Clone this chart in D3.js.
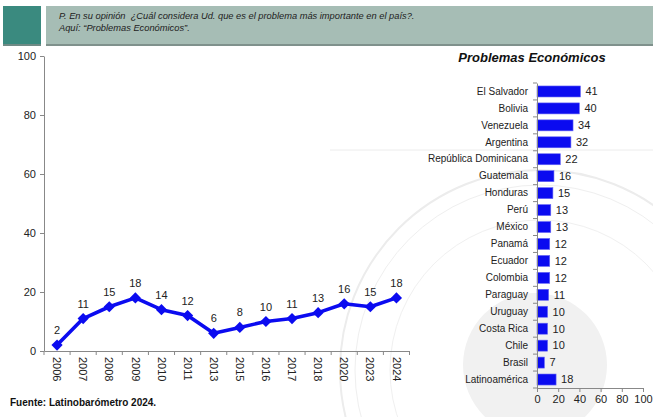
<!DOCTYPE html>
<html>
<head>
<meta charset="utf-8">
<script src="https://cdn.jsdelivr.net/npm/d3@7"></script>
<style>
  body { margin: 0; background: #fff; }
  svg { font-family: "Liberation Sans", Arial, sans-serif; }
</style>
</head>
<body>
<div class="chart"></div>
<script>
// line chart data
const years = ['2006', '2007', '2008', '2009', '2010', '2011', '2013', '2015', '2016', '2017', '2018', '2020', '2023', '2024'];
const yearValues = [2, 11, 15, 18, 14, 12, 6, 8, 10, 11, 13, 16, 15, 18];
const lineTicks = [0, 20, 40, 60, 80, 100];

// bar chart data
const countries = ['El Salvador', 'Bolivia', 'Venezuela', 'Argentina', 'República Dominicana', 'Guatemala', 'Honduras',
    'Perú', 'México', 'Panamá', 'Ecuador', 'Colombia', 'Paraguay', 'Uruguay', 'Costa Rica', 'Chile', 'Brasil', 'Latinoamérica'];
const countryValues = [41, 40, 34, 32, 22, 16, 15, 13, 13, 12, 12, 12, 11, 10, 10, 10, 7, 18];
const barTicks = [0, 20, 40, 60, 80, 100];

const svg_width = 653;
const svg_height = 417;
const blue = '#0b0bf0';

const svg = d3.select('.chart')
    .append('svg')
    .attr('width', svg_width)
    .attr('height', svg_height);

// faint watermark behind everything
const wm = svg.append('g').attr('class', 'watermark');
wm.append('line')
    .attr('x1', 330).attr('x2', svg_width)
    .attr('y1', 150).attr('y2', 150)
    .style('stroke', '#ececec');
wm.append('circle').attr('cx', 540).attr('cy', 370).attr('r', 200)
    .style('fill', 'none').style('stroke', '#ececec').style('stroke-width', 2);
wm.append('circle').attr('cx', 540).attr('cy', 370).attr('r', 185)
    .style('fill', 'none').style('stroke', '#efefef').style('stroke-width', 1);
wm.append('circle').attr('cx', 540).attr('cy', 370).attr('r', 150)
    .style('fill', 'none').style('stroke', '#f0f0f0').style('stroke-width', 1);
wm.append('circle').attr('cx', 535).attr('cy', 365).attr('r', 72)
    .style('fill', '#f1f1f1');

// header band
svg.append('rect')
    .attr('x', 3).attr('y', 6)
    .attr('width', 38).attr('height', 39)
    .style('fill', '#3a8a7f');
svg.append('rect')
    .attr('x', 46).attr('y', 6)
    .attr('width', svg_width - 46).attr('height', 39)
    .style('fill', '#a6bdb5');
svg.append('rect')
    .attr('x', 3).attr('y', 44)
    .attr('width', 38).attr('height', 2)
    .style('fill', '#6f8a85');
svg.append('rect')
    .attr('x', 46).attr('y', 44)
    .attr('width', svg_width - 46).attr('height', 2)
    .style('fill', '#7f918c');
const header = svg.append('text')
    .attr('x', 59)
    .style('font-size', '9.3px')
    .style('font-style', 'italic')
    .style('white-space', 'pre')
    .style('fill', '#222');
header.append('tspan')
    .attr('x', 59).attr('y', 19)
    .text('P. En su opinión  ¿Cuál considera Ud. que es el problema más importante en el país?.');
header.append('tspan')
    .attr('x', 59).attr('y', 31)
    .text('Aquí: “Problemas Económicos”.');

// ---- line chart ----
const lineLeft = 44, lineRight = 409.5, lineTop = 56, lineBottom = 351;
const xScale = d3.scaleBand()
    .domain(years)
    .range([lineLeft, lineRight]);
const yScale = d3.scaleLinear([0, 100], [lineBottom, lineTop]);

const yAxis = d3.axisLeft(yScale)
    .tickValues(lineTicks)
    .tickSizeInner(4)
    .tickSizeOuter(0)
    .tickPadding(4);
const yAxisDraw = svg.append('g')
    .attr('class', 'y axis')
    .attr('transform', `translate(${lineLeft},0)`)
    .call(yAxis);
yAxisDraw.selectAll('text').style('font-size', '11px').style('fill', '#222');
yAxisDraw.selectAll('line, path').style('stroke', '#888');

const xAxis = d3.axisBottom(xScale)
    .tickSize(0)
    .tickFormat('');
const xAxisDraw = svg.append('g')
    .attr('class', 'x axis')
    .attr('transform', `translate(0,${lineBottom})`)
    .call(xAxis);
xAxisDraw.select('path').style('stroke', '#888');
// category boundary ticks
const bounds = years.map(d => xScale(d)).concat([xScale.range()[1]]);
xAxisDraw.selectAll('.bound')
    .data(bounds)
    .enter()
    .append('line')
    .attr('x1', d => d).attr('x2', d => d)
    .attr('y1', 0).attr('y2', 4)
    .style('stroke', '#888');
xAxisDraw.selectAll('.year')
    .data(years)
    .enter()
    .append('text')
    .attr('class', 'year')
    .attr('transform', d => `translate(${xScale(d) + xScale.bandwidth() / 2},6) rotate(90)`)
    .attr('dy', '0.35em')
    .style('text-anchor', 'start')
    .style('font-size', '11px')
    .style('fill', '#222')
    .text(d => d);

const points = years.map((d, i) => ({ year: d, value: yearValues[i] }));
const line = d3.line()
    .x(d => xScale(d.year) + xScale.bandwidth() / 2)
    .y(d => yScale(d.value));
svg.append('path')
    .datum(points)
    .attr('d', line)
    .style('fill', 'none')
    .style('stroke', blue)
    .style('stroke-width', 3.6)
    .style('stroke-linejoin', 'round');
svg.selectAll('.marker')
    .data(points)
    .enter()
    .append('path')
    .attr('class', 'marker')
    .attr('d', d3.symbol(d3.symbolDiamond2, 80))
    .attr('transform', d => `translate(${xScale(d.year) + xScale.bandwidth() / 2},${yScale(d.value)})`)
    .style('fill', blue);
svg.selectAll('.point-label')
    .data(points)
    .enter()
    .append('text')
    .attr('class', 'point-label')
    .attr('x', d => xScale(d.year) + xScale.bandwidth() / 2)
    .attr('y', d => yScale(d.value) - 11)
    .style('text-anchor', 'middle')
    .style('font-size', '11px')
    .style('fill', '#222')
    .text(d => d.value);

svg.append('text')
    .attr('x', 10)
    .attr('y', 406)
    .style('font-size', '10px')
    .style('font-weight', 'bold')
    .style('fill', '#111')
    .text('Fuente: Latinobarómetro 2024.');

// ---- bar chart ----
const barLeft = 537, barRight = 643, barTop = 83, barBottom = 388;
const bxScale = d3.scaleLinear([0, 100], [barLeft, barRight]);
const byScale = d3.scaleBand()
    .domain(countries)
    .range([barTop, barBottom])
    .paddingInner(0.35)
    .paddingOuter(0.175);

svg.append('text')
    .attr('x', 532)
    .attr('y', 62)
    .style('text-anchor', 'middle')
    .style('font-size', '13px')
    .style('font-weight', 'bold')
    .style('font-style', 'italic')
    .style('fill', '#111')
    .text('Problemas Económicos');

const barData = countries.map((d, i) => ({ country: d, value: countryValues[i] }));
svg.selectAll('.bar')
    .data(barData)
    .enter()
    .append('rect')
    .attr('class', 'bar')
    .attr('x', barLeft)
    .attr('y', d => byScale(d.country))
    .attr('width', d => bxScale(d.value) - barLeft)
    .attr('height', byScale.bandwidth())
    .style('fill', blue)
    .style('stroke', '#6a6af5')
    .style('stroke-width', 0.6);
svg.selectAll('.bar-label')
    .data(barData)
    .enter()
    .append('text')
    .attr('class', 'bar-label')
    .attr('x', d => bxScale(d.value) + 5)
    .attr('y', d => byScale(d.country) + byScale.bandwidth() / 2)
    .attr('dy', '0.35em')
    .style('font-size', '11px')
    .style('fill', '#222')
    .text(d => d.value);

const bxAxis = d3.axisBottom(bxScale)
    .tickValues(barTicks)
    .tickSizeInner(4)
    .tickSizeOuter(0)
    .tickPadding(3);
const bxAxisDraw = svg.append('g')
    .attr('class', 'x axis')
    .attr('transform', `translate(0,${barBottom})`)
    .call(bxAxis);
bxAxisDraw.selectAll('text').style('font-size', '11px').style('fill', '#222');
bxAxisDraw.selectAll('line, path').style('stroke', '#888');

const byAxis = d3.axisLeft(byScale)
    .tickSize(0)
    .tickPadding(9);
const byAxisDraw = svg.append('g')
    .attr('class', 'y axis')
    .attr('transform', `translate(${barLeft},0)`)
    .call(byAxis);
byAxisDraw.selectAll('text').style('font-size', '10px').style('fill', '#222');
byAxisDraw.select('path').style('stroke', '#888');
const barBounds = d3.range(countries.length + 1).map(i => barTop + i * (barBottom - barTop) / countries.length);
byAxisDraw.selectAll('.bound')
    .data(barBounds)
    .enter()
    .append('line')
    .attr('x1', -4).attr('x2', 0)
    .attr('y1', d => d).attr('y2', d => d)
    .style('stroke', '#888');
</script>
</body>
</html>
